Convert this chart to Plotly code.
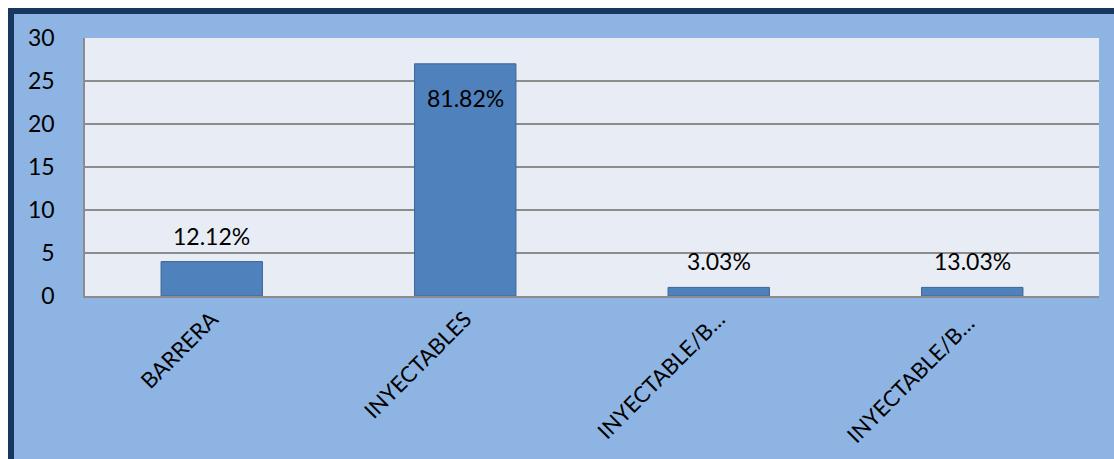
import plotly.graph_objects as go

# Method counts and the percentage labels printed over each bar
categories = ["BARRERA", "INYECTABLES", "INYECTABLE/B…", "INYECTABLE/B… "]
counts = [4, 27, 1, 1]
pct_labels = ["12.12%", "81.82%", "3.03%", "13.03%"]
label_offsets = [26, -34, 26, 26]  # pixels above (+) / below (-) the bar top

W, H = 1114, 459
L, R, T, B = 85, 15, 38, 163
pw, ph = W - L - R, H - T - B


def px_x(x):
    return (x - L) / pw


def px_y(y):
    return (H - B - y) / ph


FONT = "Lato, 'Open Sans', sans-serif"

fig = go.Figure()
fig.add_trace(go.Bar(
    x=categories,
    y=counts,
    marker=dict(color="#4F81BD", line=dict(color="#3B6696", width=1)),
    width=0.4,
    hoverinfo="x+y",
))

for cat, val, txt, off in zip(categories, counts, pct_labels, label_offsets):
    fig.add_annotation(
        x=cat, y=val, text=txt, showarrow=False,
        yshift=off, yanchor="middle",
        font=dict(family=FONT, size=23, color="#000000"),
    )

# Outer frame: white page edge with a dark navy border on top and left
shapes = [
    dict(type="rect", xref="paper", yref="paper",
         x0=px_x(0), x1=px_x(W), y0=px_y(0), y1=px_y(8),
         fillcolor="#FFFFFF", line=dict(width=0), layer="below"),
    dict(type="rect", xref="paper", yref="paper",
         x0=px_x(0), x1=px_x(8), y0=px_y(0), y1=px_y(H),
         fillcolor="#FFFFFF", line=dict(width=0), layer="below"),
    dict(type="rect", xref="paper", yref="paper",
         x0=px_x(8), x1=px_x(W), y0=px_y(8), y1=px_y(14),
         fillcolor="#17375E", line=dict(width=0), layer="below"),
    dict(type="rect", xref="paper", yref="paper",
         x0=px_x(8), x1=px_x(14), y0=px_y(8), y1=px_y(H),
         fillcolor="#17375E", line=dict(width=0), layer="below"),
]

fig.update_layout(
    width=W, height=H,
    margin=dict(l=L, r=R, t=T, b=B, pad=0),
    paper_bgcolor="#8EB4E3",
    plot_bgcolor="#E8ECF4",
    showlegend=False,
    bargap=0.6,
    shapes=shapes,
    font=dict(family=FONT, size=23, color="#000000"),
)
fig.update_yaxes(
    range=[0, 30], dtick=5, tick0=0,
    showgrid=True, gridcolor="#8C8C8C", gridwidth=1.5,
    showline=True, linecolor="#8C8C8C", linewidth=1.5,
    ticks="", ticklabelstandoff=24,
    tickfont=dict(family=FONT, size=23, color="#000000"),
    zeroline=False, fixedrange=True,
)
fig.update_xaxes(
    showline=True, linecolor="#8C8C8C", linewidth=1.5,
    tickangle=-45, ticks="",
    tickfont=dict(family=FONT, size=22, color="#000000"),
    showgrid=False, fixedrange=True,
)

fig.write_html("out.html")
